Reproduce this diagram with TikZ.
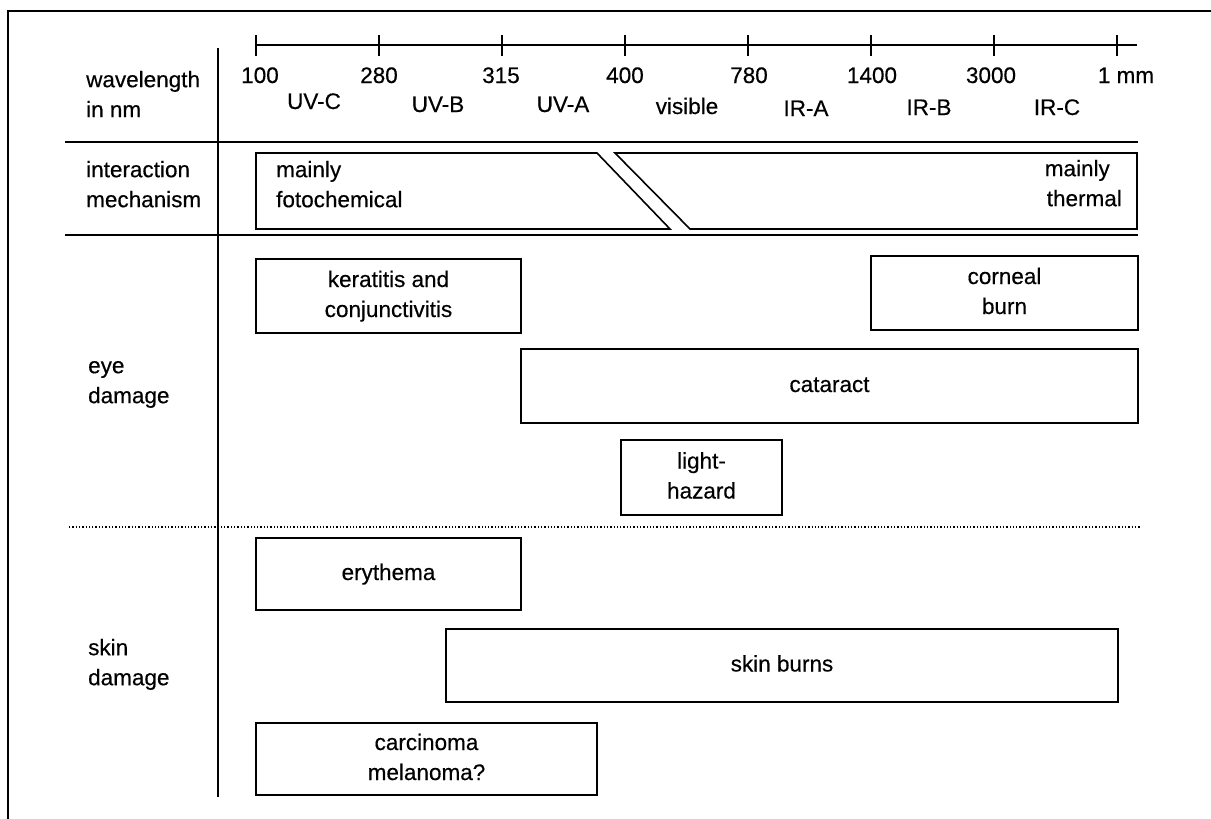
\documentclass[tikz,border=0pt]{standalone}
\usepackage{fontspec}
\setmainfont{Liberation Sans}
\newfontfamily\scanfont[FakeBold=0.4]{Liberation Sans}
\begin{document}
\begin{tikzpicture}[x=1pt,y=-1pt,
  txt/.style={font=\scanfont\fontsize{22.5}{30}\selectfont, inner sep=0pt},
  lbl/.style={txt, align=left, anchor=north west},
  num/.style={txt, anchor=base},
  band/.style={txt, anchor=base},
  rangebox/.style={txt, draw, line width=1.6pt, align=center},
  rule/.style={line width=1.6pt},
  thickrule/.style={line width=2.2pt},
  axisline/.style={line width=1.5pt}
]
\useasboundingbox (0,0) rectangle (1211,819);
% outer frame (partly cropped)
\draw[rule] (8,819) -- (8,11) -- (1211,11);
% wavelength axis
\draw[axisline] (256,45) -- (1137,45);
\foreach \x in {256,379,502,625,748,871,994,1117}
  \draw[axisline] (\x,35) -- (\x,56);
\node[num] (n100) at (260,83) {100};
\node[num] (n280) at (379,83) {280};
\node[num] (n315) at (501,83) {315};
\node[num] (n400) at (625,83) {400};
\node[num] (n780) at (749,83) {780};
\node[num] (n1400) at (872,83) {1400};
\node[num] (n3000) at (991,83) {3000};
\node[num] (n1mm) at (1126,83) {1 mm};
\node[band] (uvc) at (314,109) {UV-C};
\node[band] (uvb) at (438,112) {UV-B};
\node[band] (uva) at (563,112) {UV-A};
\node[band] (vis) at (687,114) {visible};
\node[band] (ira) at (806,116) {IR-A};
\node[band] (irb) at (929,115) {IR-B};
\node[band] (irc) at (1057,115) {IR-C};
% table rules
\draw[rule] (218,48) -- (218,797);
\draw[rule] (65,142) -- (1138,142);
\draw[thickrule] (65,235) -- (1138,235);
\draw[dotted, line width=1.3pt] (69,527) -- (1140,527);
% row labels
\node[lbl] (wl) at (86,66) {\strut wavelength\\\strut in nm};
\node[lbl] (im) at (86,156) {\strut interaction\\\strut mechanism};
\node[lbl] (eye) at (88,352) {\strut eye\\\strut damage};
\node[lbl] (skin) at (88,634) {\strut skin\\\strut damage};
% interaction mechanism
\draw[rule] (256,153) -- (597,153) -- (670,229) -- (256,229) -- cycle;
\draw[rule] (615,153) -- (1137,153) -- (1137,229) -- (690,229) -- cycle;
\node[lbl] (foto) at (276,156) {\strut mainly\\\strut fotochemical};
\node[txt, align=right, anchor=north east] (therm) at (1122,155) {\strut mainly\hspace*{12pt}\\\strut thermal};
% eye damage
\node[rangebox, minimum width=265pt, minimum height=74pt] (ker) at (388.5,296) {\strut keratitis and\\\strut conjunctivitis};
\node[rangebox, minimum width=267pt, minimum height=74pt] (corn) at (1004.5,293) {\strut corneal\\\strut burn};
\node[rangebox, minimum width=617pt, minimum height=74pt] (cat) at (829.5,386) {\strut cataract};
\node[rangebox, minimum width=161pt, minimum height=75pt] (light) at (701.5,477.5) {\strut light-\\\strut hazard};
% skin damage
\node[rangebox, minimum width=265pt, minimum height=72pt] (ery) at (388.5,574) {\strut erythema};
\node[rangebox, minimum width=672pt, minimum height=73pt] (burns) at (782,665.5) {\strut skin burns};
\node[rangebox, minimum width=341pt, minimum height=72pt] (carc) at (426.5,759) {\strut carcinoma\\\strut melanoma?};
\end{tikzpicture}
\end{document}
